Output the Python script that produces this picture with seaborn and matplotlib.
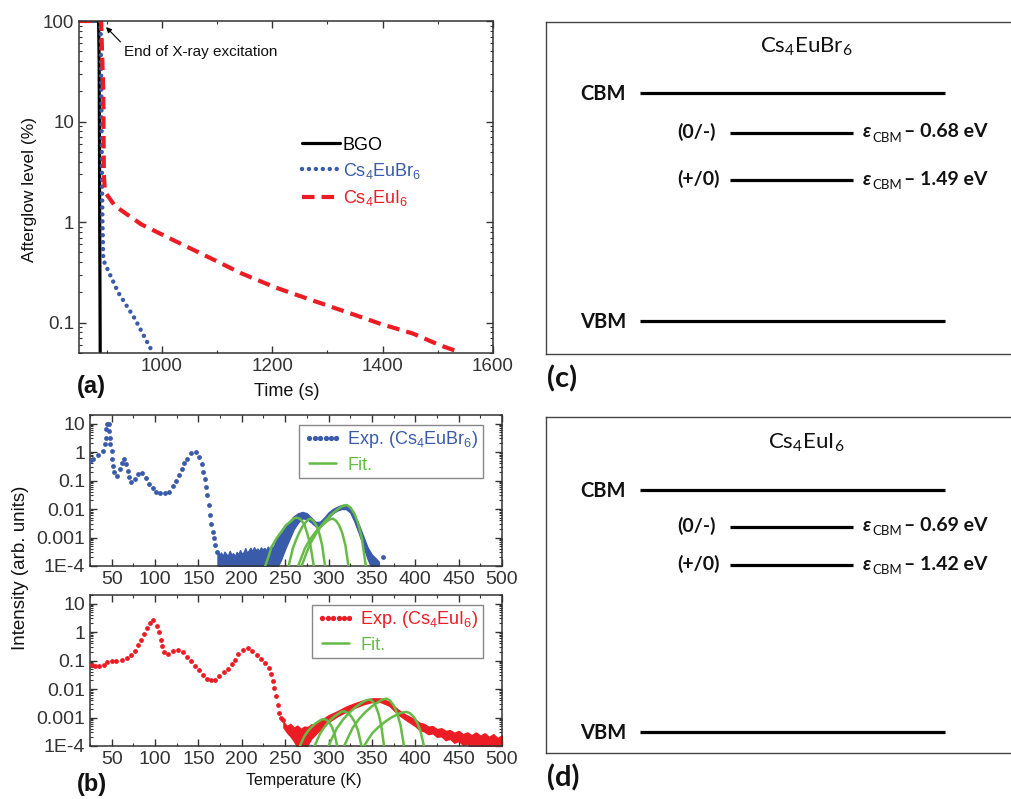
import numpy as np
import matplotlib
matplotlib.use("Agg")
import matplotlib.pyplot as plt
import seaborn as sns
from matplotlib.lines import Line2D
from matplotlib.ticker import (FixedLocator, FixedFormatter, LogLocator,
                               NullFormatter, MultipleLocator)

# ------------------------------------------------------------------ data
# (a) afterglow after end of X-ray excitation
bgo_t = [850, 885.5, 886.5, 887, 887.5, 888, 888.5]
bgo_v = [100, 100, 40, 8, 1, 0.2, 0.04]
br_ag_t = [850, 889, 890.5, 891.5, 892.5, 894, 921, 951, 984]
br_ag_v = [100, 100, 20, 3, 1, 0.42, 0.2, 0.11, 0.05]
i_ag_t = [850, 890, 894, 895, 897, 915, 963, 1024, 1084, 1144, 1205, 1274,
          1334, 1395, 1455, 1503, 1539]
i_ag_v = [100, 100, 20, 3, 2.0, 1.45, 0.95, 0.65, 0.45, 0.31, 0.225, 0.166,
          0.128, 0.098, 0.078, 0.06, 0.051]
ag_labels = ['BGO', r'Cs$_\mathregular{4}$EuBr$_\mathregular{6}$',
             r'Cs$_\mathregular{4}$EuI$_\mathregular{6}$']

# (b) thermoluminescence, Cs4EuBr6 (dotted experimental points)
br_T = [25.5, 29, 34.6, 39.6, 42.3, 43.5, 44, 45, 47.3, 47.3, 48, 48.6, 50,
        50.8, 52, 53, 56.5, 59.6, 61.6, 64, 67, 69.2, 70.4, 72, 77, 80.8,
        85.4, 89.7, 93.5, 97.4, 101, 106, 111.6, 116.6, 121, 124, 127.4, 131,
        133.5, 136.6, 141.6, 147, 151, 154, 155.8, 157.8, 159, 160.4, 162.4,
        163.6, 164.7, 166.7, 168, 169.3, 171.2, 363]
br_I = [0.5, 0.56, 0.78, 1.1, 1.9, 3.2, 6.3, 9.3, 9.3, 5.4, 3.2, 1.9, 1.1,
        0.56, 0.33, 0.2, 0.15, 0.25, 0.43, 0.59, 0.38, 0.22, 0.13, 0.087,
        0.115, 0.17, 0.18, 0.12, 0.076, 0.054, 0.039, 0.037, 0.037, 0.041,
        0.063, 0.1, 0.16, 0.25, 0.41, 0.59, 0.95, 1.0, 0.65, 0.38, 0.195,
        0.115, 0.058, 0.03, 0.0135, 0.006, 0.0031, 0.0016, 9.3e-4, 5.4e-4,
        3.2e-4, 2.0e-4]
# dense noisy part of the Cs4EuBr6 curve: lower / upper envelope
br_band_T = [172, 174, 176, 178, 180, 182, 184, 186, 188, 190, 192, 194, 196,
             198, 200, 202, 204, 206, 208, 210, 212, 214, 216, 218, 220, 222,
             224, 226, 228, 230, 232, 234, 236, 238, 240, 245, 250, 255, 260,
             265, 270, 275, 280, 285, 290, 295, 300, 305, 310, 315, 320, 325,
             330, 335, 340, 345, 350, 355, 358]
br_band_hi = [3.5e-4, 2.4e-4, 3.0e-4, 2.2e-4, 3.2e-4, 2.6e-4, 2.3e-4, 3.4e-4,
              2.5e-4, 2.8e-4, 2.2e-4, 3.1e-4, 2.6e-4, 3.6e-4, 2.7e-4, 3.0e-4,
              4.2e-4, 2.9e-4, 3.5e-4, 4.4e-4, 3.2e-4, 4.6e-4, 3.6e-4, 4.1e-4,
              3.3e-4, 4.5e-4, 3.8e-4, 4.3e-4, 3.5e-4, 4.8e-4, 4.0e-4, 5.2e-4,
              4.4e-4, 6.0e-4, 8.9e-4, 1.41e-3, 2.4e-3, 3.8e-3, 5.6e-3, 7.1e-3,
              7.9e-3, 7.1e-3, 5.0e-3, 3.55e-3, 3.55e-3, 5.0e-3, 7.6e-3, 1.0e-2,
              1.2e-2, 1.38e-2, 1.45e-2, 1.12e-2, 5.6e-3, 2.8e-3, 1.12e-3,
              4.5e-4, 2.5e-4, 1.78e-4, 1.41e-4]
br_band_lo = [5e-5, 5e-5, 5e-5, 5e-5, 5e-5, 5e-5, 5e-5, 5e-5, 5e-5, 5e-5,
              5e-5, 5e-5, 5e-5, 5e-5, 5e-5, 5e-5, 5e-5, 5e-5, 5e-5, 5e-5,
              5e-5, 5e-5, 5e-5, 5e-5, 5e-5, 5e-5, 5e-5, 5e-5, 5e-5, 5e-5,
              5e-5, 5e-5, 5e-5, 5e-5, 7.9e-5, 1.6e-4, 4.0e-4, 8.9e-4, 2.0e-3,
              3.4e-3, 4.7e-3, 4.5e-3, 3.4e-3, 2.5e-3, 2.4e-3, 3.3e-3, 5.0e-3,
              7.1e-3, 8.9e-3, 1.0e-2, 1.0e-2, 7.6e-3, 3.55e-3, 1.41e-3,
              5.0e-4, 1.78e-4, 7.9e-5, 5e-5, 5e-5]
# fitted glow peaks, Cs4EuBr6
br_fit1_T = [227, 231, 234, 240, 246, 251, 257, 260, 264, 268, 272, 275, 279, 283]
br_fit1_I = [1.0e-4, 2.2e-4, 4.5e-4, 9.3e-4, 1.66e-3, 2.7e-3, 3.8e-3, 4.7e-3,
             5.0e-3, 4.3e-3, 2.9e-3, 1.55e-3, 5.6e-4, 1.0e-4]
br_fit2_T = [254, 256.5, 259, 263, 266.5, 270, 274, 276.5, 279, 282.4, 285.8,
             289.2, 292.6, 296]
br_fit2_I = [1.0e-4, 2.1e-4, 4.3e-4, 8.9e-4, 1.55e-3, 2.45e-3, 3.5e-3, 4.3e-3,
             4.6e-3, 3.9e-3, 2.7e-3, 1.45e-3, 5.4e-4, 1.0e-4]
br_fit3_T = [265, 269, 273, 279, 285, 291, 297, 301, 305, 308.6, 312.2, 315.8,
             319.4, 323]
br_fit3_I = [1.0e-4, 2.1e-4, 4.3e-4, 8.9e-4, 1.55e-3, 2.45e-3, 3.5e-3, 4.3e-3,
             4.6e-3, 3.9e-3, 2.7e-3, 1.45e-3, 5.4e-4, 1.0e-4]
br_fit4_T = [269, 274.2, 279.4, 287.2, 295, 302.8, 310.6, 315.8, 321, 325.4,
             329.8, 334.2, 338.6, 343]
br_fit4_I = [1.0e-4, 2.7e-4, 6.5e-4, 1.66e-3, 3.5e-3, 6.3e-3, 9.8e-3, 1.26e-2,
             1.38e-2, 1.12e-2, 6.9e-3, 3.16e-3, 8.7e-4, 1.0e-4]

# (b) thermoluminescence, Cs4EuI6
i_T = [27, 30.8, 35.8, 41, 45, 50, 55, 61.6, 67.4, 72.3, 77, 80.8, 84, 87.4,
       90.5, 94.3, 98, 102, 104.6, 106.6, 107.7, 110.4, 114.6, 120.4, 127,
       132, 136.6, 141.6, 146, 150.7, 155.7, 159.6, 164.2, 169.3, 174.3, 179,
       184, 188.6, 192.4, 196.2, 201.3, 206.6, 211.7, 217.5, 222.5, 227,
       230.9, 233.6, 235.5, 237.5, 239.4, 241.3, 243.2, 245.5, 247.5]
i_I = [0.068, 0.063, 0.065, 0.069, 0.089, 0.1, 0.093, 0.107, 0.126, 0.162,
       0.214, 0.34, 0.51, 0.87, 1.41, 2.14, 2.57, 1.62, 1.0, 0.54, 0.32, 0.2,
       0.174, 0.214, 0.24, 0.195, 0.132, 0.093, 0.065, 0.046, 0.03, 0.023,
       0.0204, 0.0214, 0.028, 0.039, 0.052, 0.074, 0.107, 0.166, 0.23, 0.28,
       0.214, 0.151, 0.11, 0.081, 0.055, 0.033, 0.019, 0.0105, 0.0056,
       0.0027, 0.00145, 0.001, 8.5e-4]
i_band_T = [248, 252, 256, 260, 264, 268, 272, 276, 280, 284, 288, 292, 296,
            300, 310, 320, 330, 340, 350, 360, 370, 380, 390, 400, 405, 410,
            415, 420, 425, 430, 435, 440, 445, 450, 455, 460, 465, 470, 475,
            480, 485, 490, 495, 500]
i_band_hi = [7.1e-4, 5.0e-4, 6.0e-4, 4.4e-4, 5.2e-4, 4.0e-4, 4.8e-4, 4.6e-4,
             5.8e-4, 5.6e-4, 7.4e-4, 8.0e-4, 1.0e-3, 1.2e-3, 1.66e-3, 2.4e-3,
             3.16e-3, 4.0e-3, 4.7e-3, 4.7e-3, 3.55e-3, 1.9e-3, 1.2e-3, 8.5e-4,
             6.5e-4, 6.0e-4, 4.8e-4, 5.0e-4, 3.9e-4, 4.2e-4, 3.4e-4, 3.6e-4,
             2.9e-4, 3.4e-4, 2.6e-4, 3.0e-4, 2.4e-4, 3.0e-4, 2.3e-4, 2.8e-4,
             2.1e-4, 2.6e-4, 1.9e-4, 2.4e-4]
i_band_lo = [4.5e-4, 3.0e-4, 2.2e-4, 1.5e-4, 9e-5, 6e-5, 6e-5, 1.1e-4, 1.8e-4,
             2.4e-4, 3.2e-4, 4.2e-4, 5.2e-4, 7.0e-4, 1.1e-3, 1.6e-3, 2.2e-3,
             2.9e-3, 3.5e-3, 3.5e-3, 2.6e-3, 1.3e-3, 7.9e-4, 5.0e-4, 3.6e-4,
             3.3e-4, 2.6e-4, 2.8e-4, 2.1e-4, 2.2e-4, 1.6e-4, 1.8e-4, 1.3e-4,
             1.5e-4, 1.1e-4, 1.2e-4, 8e-5, 1.1e-4, 7e-5, 9e-5, 6e-5, 8e-5,
             6e-5, 6e-5]
# fitted glow peaks, Cs4EuI6
i_fit1_T = [267, 269.8, 272.6, 276.8, 281, 285.2, 289.4, 292.2, 295, 298, 301,
            304, 307, 310]
i_fit1_I = [1.0e-4, 1.55e-4, 2.3e-4, 3.5e-4, 4.8e-4, 6.3e-4, 7.6e-4, 8.5e-4,
            8.9e-4, 8.1e-4, 6.6e-4, 4.6e-4, 2.6e-4, 1.0e-4]
i_fit2_T = [284, 287.4, 290.8, 295.9, 301, 306.1, 311.2, 314.6, 318, 322, 326,
            330, 334, 338]
i_fit2_I = [1.0e-4, 1.74e-4, 2.9e-4, 4.9e-4, 7.6e-4, 1.05e-3, 1.35e-3, 1.58e-3,
            1.66e-3, 1.48e-3, 1.12e-3, 7.1e-4, 3.5e-4, 1.0e-4]
i_fit3_T = [300, 304.8, 309.6, 316.8, 324, 331.2, 338.4, 343.2, 348, 351.2,
            354.4, 357.6, 360.8, 364]
i_fit3_I = [1.0e-4, 2.1e-4, 4.2e-4, 8.5e-4, 1.48e-3, 2.35e-3, 3.3e-3, 4.0e-3,
            4.3e-3, 3.6e-3, 2.5e-3, 1.38e-3, 5.2e-4, 1.0e-4]
i_fit4_T = [318, 322.9, 327.8, 335.2, 342.5, 349.9, 357.2, 362.1, 367, 371, 375,
            379, 383, 387]
i_fit4_I = [1.0e-4, 2.1e-4, 4.3e-4, 8.9e-4, 1.55e-3, 2.45e-3, 3.5e-3, 4.3e-3,
            4.6e-3, 3.9e-3, 2.7e-3, 1.45e-3, 5.4e-4, 1.0e-4]
i_fit5_T = [341, 345.9, 350.8, 358.2, 365.5, 372.9, 380.2, 385.1, 390, 394, 398,
            402, 406, 410]
i_fit5_I = [1.0e-4, 1.74e-4, 2.9e-4, 4.8e-4, 7.2e-4, 1.02e-3, 1.32e-3, 1.51e-3,
            1.58e-3, 1.41e-3, 1.07e-3, 6.9e-4, 3.4e-4, 1.0e-4]

tl_xticks = [50, 100, 150, 200, 250, 300, 350, 400, 450, 500]
tl_yticks = [1e-4, 1e-3, 1e-2, 1e-1, 1, 10]
tl_ylabels = ['1E-4', '0.001', '0.01', '0.1', '1', '10']
ag_xticks = [1000, 1200, 1400, 1600]
ag_yticks = [0.1, 1, 10, 100]
ag_ylabels = ['0.1', '1', '10', '100']

# (c), (d) defect levels (eV below CBM); band gap of the schematic
br_gap = 3.9
br_depths = [0.68, 1.49]
i_gap = 4.57
i_depths = [0.69, 1.42]
trap_labels = ['(0/-)', '(+/0)']

# ------------------------------------------------------------------ style
sns.set_style("ticks")
plt.rcParams['font.family'] = ['Liberation Sans', 'DejaVu Sans']
plt.rcParams.update({
    'xtick.direction': 'in', 'ytick.direction': 'in',
    'xtick.major.size': 5, 'ytick.major.size': 5,
    'xtick.minor.size': 2.5, 'ytick.minor.size': 2.5,
    'xtick.major.width': 1.0, 'ytick.major.width': 1.0,
    'xtick.minor.width': 0.8, 'ytick.minor.width': 0.8,
    'axes.linewidth': 1.1, 'axes.edgecolor': '#333333',
    'xtick.color': '#333333', 'ytick.color': '#333333',
    'text.color': '#111111',
})
BLUE = '#3A5BAA'
RED = '#EC1C24'
GREEN = '#66BB46'
RF = ['Lato', 'DejaVu Sans']

W, H = 1011, 799
fig = plt.figure(figsize=(W / 100, H / 100), dpi=100)


def px_axes(l, t, r, b):
    return fig.add_axes([l / W, 1 - b / H, (r - l) / W, (b - t) / H])


axA = px_axes(79, 21, 493, 353)
axB1 = px_axes(90, 415, 502, 566)
axB2 = px_axes(90, 595, 502, 746)
axC = px_axes(546, 22, 1014, 354)
axD = px_axes(546, 417, 1014, 753)

# ------------------------------------------------------------------ (a)
ax = axA
ax.set_yscale('log')
sns.lineplot(x=bgo_t, y=bgo_v, ax=ax, color='k', lw=2.3, sort=False,
             estimator=None, legend=False)
sns.lineplot(x=br_ag_t, y=br_ag_v, ax=ax, color=BLUE, lw=3.2, sort=False,
             estimator=None, legend=False, linestyle=(0, (0.01, 1.55)),
             dash_capstyle='round')
sns.lineplot(x=i_ag_t, y=i_ag_v, ax=ax, color=RED, lw=3.0, sort=False,
             estimator=None, legend=False, linestyle=(0, (3, 1.7)))
ax.set_xlim(850, 1600)
ax.set_ylim(0.05, 100)
ax.xaxis.set_major_locator(FixedLocator(ag_xticks))
ax.xaxis.set_minor_locator(MultipleLocator(100))
ax.yaxis.set_major_locator(FixedLocator(ag_yticks))
ax.yaxis.set_major_formatter(FixedFormatter(ag_ylabels))
ax.yaxis.set_minor_locator(LogLocator(base=10, subs=np.arange(2, 10) * 1.0, numticks=20))
ax.yaxis.set_minor_formatter(NullFormatter())
ax.tick_params(which='both', top=True, right=True, labelsize=13.5)
ax.set_xlabel('')
ax.set_ylabel('')
ax.annotate('End of X-ray excitation', xy=(899, 87), xytext=(931, 49),
            ha='left', va='center', fontsize=11,
            arrowprops=dict(arrowstyle='-|>', color='k', lw=0.8,
                            mutation_scale=8, shrinkA=0, shrinkB=0,
                            relpos=(0, 1)))
hA = [Line2D([], [], color='k', lw=2.3),
      Line2D([], [], color=BLUE, lw=3.2, linestyle=(0, (0.01, 1.55)),
             dash_capstyle='round'),
      Line2D([], [], color=RED, lw=3.0, linestyle=(0, (3, 1.7)))]
legA = ax.legend(hA, ag_labels, loc='upper left', bbox_to_anchor=(0.539, 0.652),
                 frameon=False, handlelength=2.1, handletextpad=0.15,
                 borderpad=0, borderaxespad=0, labelspacing=0.4, fontsize=13)
for txt, c in zip(legA.get_texts(), ['k', BLUE, RED]):
    txt.set_color(c)
fig.text(287 / W, 1 - 392 / H, 'Time (s)', ha='center', va='center', fontsize=13)
fig.text(30 / W, 1 - 189 / H, 'Afterglow level (%)', ha='center', va='center',
         rotation=90, fontsize=12.5)
fig.text(77 / W, 1 - 387 / H, '(a)', ha='left', va='center', fontsize=17,
         weight='bold')


# ------------------------------------------------------------------ (b)
def style_tl(ax):
    ax.set_xlim(25, 500)
    ax.set_ylim(1e-4, 20)
    ax.xaxis.set_major_locator(FixedLocator(tl_xticks))
    ax.xaxis.set_minor_locator(MultipleLocator(25))
    ax.yaxis.set_major_locator(FixedLocator(tl_yticks))
    ax.yaxis.set_major_formatter(FixedFormatter(tl_ylabels))
    ax.yaxis.set_minor_locator(LogLocator(base=10, subs=np.arange(2, 10) * 1.0, numticks=20))
    ax.yaxis.set_minor_formatter(NullFormatter())
    ax.tick_params(which='both', top=True, right=True, labelsize=14)
    ax.set_xlabel('')
    ax.set_ylabel('')


def tl_legend(ax, color, label):
    h = [Line2D([], [], ls='none', marker='o', ms=3.8, color=color, mec='none'),
         Line2D([], [], color=GREEN, lw=1.8)]
    leg = ax.legend(h, [label, 'Fit.'], loc='upper right',
                    bbox_to_anchor=(0.954, 0.935), numpoints=6, frameon=True,
                    fancybox=False, edgecolor='#888888', framealpha=1,
                    borderpad=0.25, borderaxespad=0, handlelength=2.1,
                    handletextpad=0.3, labelspacing=0.35, fontsize=13)
    leg.get_frame().set_linewidth(1.0)
    for txt, c in zip(leg.get_texts(), [color, GREEN]):
        txt.set_color(c)


for ax, T, I, bT, blo, bhi, fits, col, lab in [
        (axB1, br_T, br_I, br_band_T, br_band_lo, br_band_hi,
         [(br_fit1_T, br_fit1_I), (br_fit2_T, br_fit2_I),
          (br_fit3_T, br_fit3_I), (br_fit4_T, br_fit4_I)],
         BLUE, r'Exp. (Cs$_\mathregular{4}$EuBr$_\mathregular{6}$)'),
        (axB2, i_T, i_I, i_band_T, i_band_lo, i_band_hi,
         [(i_fit1_T, i_fit1_I), (i_fit2_T, i_fit2_I), (i_fit3_T, i_fit3_I),
          (i_fit4_T, i_fit4_I), (i_fit5_T, i_fit5_I)],
         RED, r'Exp. (Cs$_\mathregular{4}$EuI$_\mathregular{6}$)')]:
    ax.set_yscale('log')
    ax.fill_between(bT, blo, bhi, color=col, lw=1.0, edgecolor=col, zorder=2)
    sns.scatterplot(x=T, y=I, ax=ax, color=col, s=12, linewidth=0,
                    legend=False, zorder=3)
    for fT, fI in fits:
        sns.lineplot(x=fT, y=fI, ax=ax, color=GREEN, lw=1.8, sort=False,
                     estimator=None, legend=False, zorder=4)
    style_tl(ax)
    tl_legend(ax, col, lab)

fig.text(21 / W, 1 - 568 / H, 'Intensity (arb. units)', ha='center',
         va='center', rotation=90, fontsize=13.5)
fig.text(304 / W, 1 - 780 / H, 'Temperature (K)', ha='center', va='center',
         fontsize=11.5)
fig.text(77 / W, 1 - 785 / H, '(b)', ha='left', va='center', fontsize=17,
         weight='bold')


# ------------------------------------------------------------------ (c), (d)
def level_panel(ax, title, gap, depths, ylim, title_y):
    ax.set_xlim(0, 1)
    ax.set_ylim(*ylim)
    ax.set_xticks([])
    ax.set_yticks([])
    for sp in ax.spines.values():
        sp.set_color('#444444')
        sp.set_linewidth(1.0)
    bands = [gap, 0]
    ax.hlines(bands, 0.2009, 0.8526, color='k', lw=2.3)
    traps = [gap - d for d in depths]
    ax.hlines(traps, 0.3932, 0.6560, color='k', lw=2.3)
    ax.text(0.5556, title_y, title, transform=ax.transAxes, ha='center',
            va='center', fontsize=16, family=RF)
    for y, s in zip(bands, ['CBM', 'VBM']):
        ax.annotate(s, xy=(0.0726, y), xycoords=('axes fraction', 'data'),
                    xytext=(0, -4.8), textcoords='offset points', ha='left',
                    va='baseline', fontsize=14.5, weight='bold', family=RF)
    for y, s, d in zip(traps, trap_labels, depths):
        ax.annotate(s, xy=(0.2799, y), xycoords=('axes fraction', 'data'),
                    xytext=(0, -3.6), textcoords='offset points', ha='left',
                    va='baseline', fontsize=14, weight='bold', family=RF)
        t1 = ax.annotate('ε', xy=(0.6774, y), xycoords=('axes fraction', 'data'),
                         xytext=(0, -3.4), textcoords='offset points',
                         ha='left', va='baseline', fontsize=14, weight='bold',
                         style='italic', family=RF)
        t2 = ax.annotate('CBM', xy=(1, y), xycoords=(t1, 'data'),
                         xytext=(0.5, -6.4), textcoords='offset points',
                         ha='left', va='baseline', fontsize=9.5, family=RF)
        ax.annotate(f'\u2013 {d:.2f} eV', xy=(1, y), xycoords=(t2, 'data'),
                    xytext=(2, -3.4), textcoords='offset points', ha='left',
                    va='baseline', fontsize=14, weight='bold', family=RF)


level_panel(axC, r'Cs$_\mathregular{4}$EuBr$_\mathregular{6}$', br_gap,
            br_depths, (-0.565, 5.115), 0.9247)
level_panel(axD, r'Cs$_\mathregular{4}$EuI$_\mathregular{6}$', i_gap,
            i_depths, (-0.397, 5.949), 0.9226)
fig.text(547 / W, 1 - 379 / H, '(c)', ha='left', va='center', fontsize=21,
         weight='bold', family=RF)
fig.text(547 / W, 1 - 778 / H, '(d)', ha='left', va='center', fontsize=21,
         weight='bold', family=RF)

fig.savefig('out.png', dpi=100)
